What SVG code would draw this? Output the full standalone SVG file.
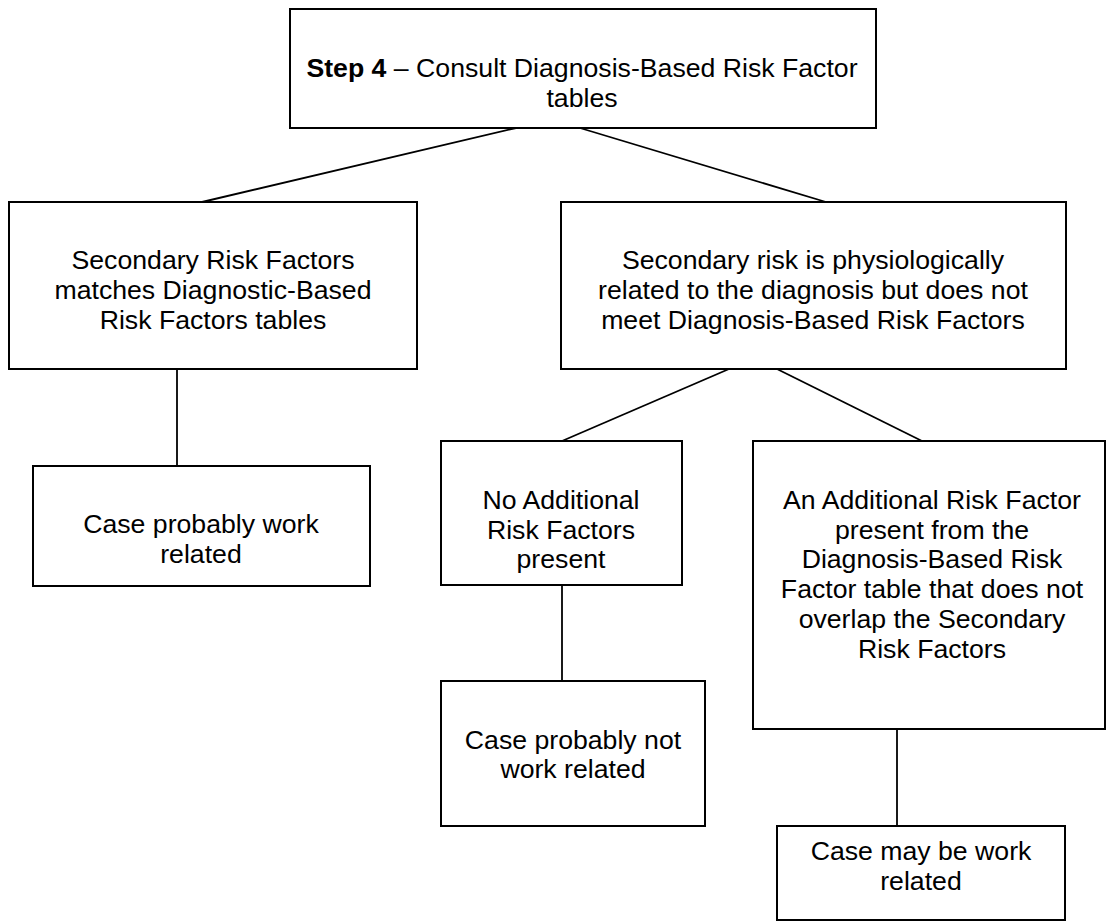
<svg xmlns="http://www.w3.org/2000/svg" width="1107" height="921" viewBox="0 0 1107 921">
<style>
.box{fill:#fff;stroke:#000;stroke-width:2}
.t{font-family:"Liberation Sans",Arial,sans-serif;font-size:26.67px;fill:#000;text-anchor:middle}
.b{font-weight:bold}
.c{stroke:#000;stroke-width:1.8;fill:none}
</style>
<rect width="1107" height="921" fill="#fff"/>
<g id="connectors">
<line class="c" x1="516" y1="128" x2="202" y2="202"/>
<line class="c" x1="580" y1="128" x2="826" y2="202"/>
<line class="c" x1="177" y1="369" x2="177" y2="466"/>
<line class="c" x1="729" y1="369" x2="562" y2="441"/>
<line class="c" x1="777" y1="369" x2="922" y2="441"/>
<line class="c" x1="562" y1="585" x2="562" y2="681"/>
<line class="c" x1="897" y1="729" x2="897" y2="826"/>
</g>
<g id="step4">
<rect class="box" x="290" y="9" width="586" height="119"/>
<text class="t" x="582" y="77"><tspan class="b">Step 4</tspan> – Consult Diagnosis-Based Risk Factor</text>
<text class="t" x="582" y="107">tables</text>
</g>
<g id="secondary-matches">
<rect class="box" x="9" y="202" width="408" height="167"/>
<text class="t" x="213" y="269">Secondary Risk Factors</text>
<text class="t" x="213" y="299">matches Diagnostic-Based</text>
<text class="t" x="213" y="329">Risk Factors tables</text>
</g>
<g id="secondary-related">
<rect class="box" x="561" y="202" width="505" height="167"/>
<text class="t" x="813" y="269">Secondary risk is physiologically</text>
<text class="t" x="813" y="299">related to the diagnosis but does not</text>
<text class="t" x="813" y="329">meet Diagnosis-Based Risk Factors</text>
</g>
<g id="probably-work">
<rect class="box" x="33" y="466" width="337" height="120"/>
<text class="t" x="201" y="533">Case probably work</text>
<text class="t" x="201" y="563">related</text>
</g>
<g id="no-additional">
<rect class="box" x="441" y="441" width="241" height="144"/>
<text class="t" x="561" y="509">No Additional</text>
<text class="t" x="561" y="539">Risk Factors</text>
<text class="t" x="561" y="568">present</text>
</g>
<g id="additional">
<rect class="box" x="753" y="441" width="352" height="288"/>
<text class="t" x="932" y="509">An Additional Risk Factor</text>
<text class="t" x="932" y="538.7">present from the</text>
<text class="t" x="932" y="568.4">Diagnosis-Based Risk</text>
<text class="t" x="932" y="598.1">Factor table that does not</text>
<text class="t" x="932" y="627.8">overlap the Secondary</text>
<text class="t" x="932" y="657.5">Risk Factors</text>
</g>
<g id="probably-not-work">
<rect class="box" x="441" y="681" width="264" height="145"/>
<text class="t" x="573" y="749">Case probably not</text>
<text class="t" x="573" y="778">work related</text>
</g>
<g id="may-be-work">
<rect class="box" x="777" y="826" width="288" height="94"/>
<text class="t" x="921" y="860">Case may be work</text>
<text class="t" x="921" y="890">related</text>
</g>
</svg>
